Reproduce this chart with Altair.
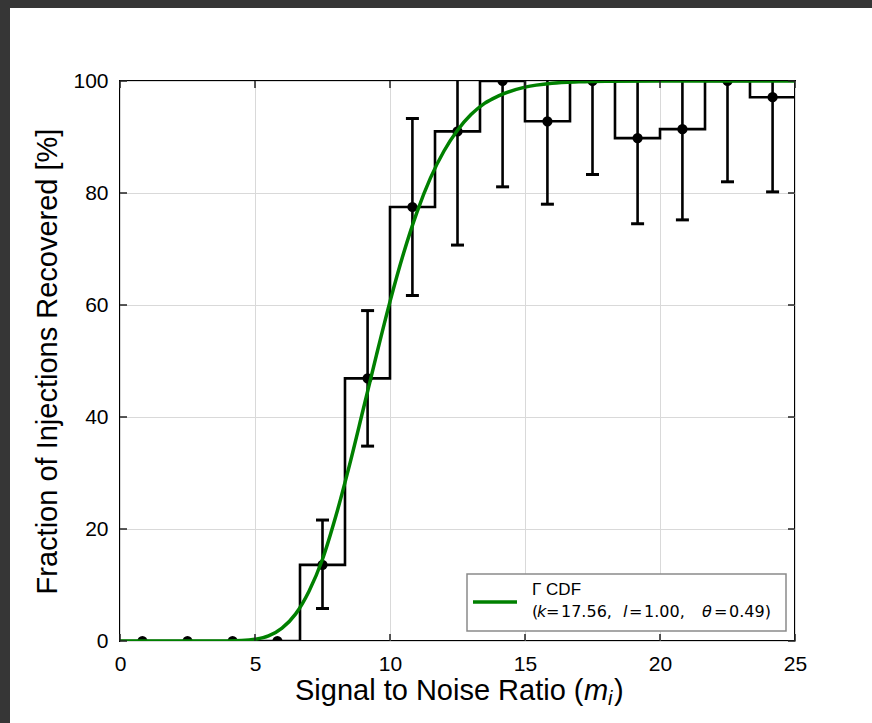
import altair as alt
import pandas as pd

# ---------------- data ----------------
bin_edges = [0.0, 1.667, 3.333, 5.0, 6.667, 8.333, 10.0, 11.667, 13.333,
             15.0, 16.667, 18.333, 20.0, 21.667, 23.333, 25.0]
bin_centers = [0.83, 2.5, 4.17, 5.83, 7.5, 9.17, 10.83, 12.5, 14.17,
               15.83, 17.5, 19.17, 20.83, 22.5, 24.17]
frac_recovered = [0, 0, 0, 0, 13.6, 46.9, 77.5, 91.0, 100, 92.8, 100,
                  89.8, 91.4, 100, 97.1]
err_low = [0, 0, 0, 0, 5.8, 34.8, 61.7, 70.7, 81.1, 78.0, 83.3, 74.5,
           75.2, 82.0, 80.2]
err_high = [0, 0, 0, 0, 21.6, 59.0, 93.3, 100, 100, 100, 100, 100,
            100, 100, 100]

cdf_x = [0, 4, 4.5, 5, 5.5, 6, 6.5, 7, 7.5, 8, 8.5, 9, 9.5, 10, 10.5, 11,
         11.5, 12, 12.5, 13, 13.5, 14, 15, 16, 17, 18, 20, 25]
cdf_y = [0, 0.01, 0.07, 0.3, 0.9, 2.3, 4.8, 8.9, 14.6, 22.4, 31.4, 41.2,
         51.1, 60.6, 69.2, 76.6, 82.7, 87.5, 91.2, 94.0, 96.0, 97.3, 98.9,
         99.6, 99.85, 99.95, 100, 100]

x_ticks = [0, 5, 10, 15, 20, 25]
y_ticks = [0, 20, 40, 60, 80, 100]

legend_title = "Γ CDF"
legend_pieces = ["(", "k", "=", "17.56,", "l", "=", "1.00,", "θ", "=", "0.49)"]
x_title_main = "Signal to Noise Ratio ("
y_title = "Fraction of Injections Recovered [%]"

# ---------------- layout ----------------
W, H = 675, 560
FONT = "Liberation Sans"
GREEN = "#008000"

xs = alt.Scale(domain=[0, 25], nice=False, zero=False)
ys = alt.Scale(domain=[0, 100], nice=False, zero=False)
x_axis = alt.Axis(values=x_ticks, title=None, format="d", labelFlush=False)
y_axis = alt.Axis(values=y_ticks, title=y_title, format="d", labelFlush=False)


def X(field):
    return alt.X(field, type="quantitative", scale=xs, axis=x_axis)


def Y(field):
    return alt.Y(field, type="quantitative", scale=ys, axis=y_axis)


step_df = pd.DataFrame({"edge": bin_edges,
                        "val": frac_recovered + [frac_recovered[-1]]})
pts_df = pd.DataFrame({"c": bin_centers, "f": frac_recovered,
                       "lo": err_low, "hi": err_high})
err_df = pts_df[pts_df["hi"] > pts_df["lo"]]
caps_df = pd.concat([
    pd.DataFrame({"c": err_df["c"], "v": err_df["lo"]}),
    pd.DataFrame({"c": err_df["c"][err_df["hi"] < 100],
                  "v": err_df["hi"][err_df["hi"] < 100]}),
])
cdf_df = pd.DataFrame({"x": cdf_x, "y": cdf_y})
xt_df = pd.DataFrame({"v": x_ticks})
yt_df = pd.DataFrame({"v": y_ticks})
one = pd.DataFrame({"k": [0]})

base = alt.Chart(one)

# dark window frame strips (top and left)
frame_top = base.mark_rect(color="#363636", clip=False).encode(
    x=alt.value(-120), x2=alt.value(W + 77), y=alt.value(-81), y2=alt.value(-73))
frame_left = base.mark_rect(color="#363636", clip=False).encode(
    x=alt.value(-120), x2=alt.value(-110), y=alt.value(-81), y2=alt.value(H + 82))

step = alt.Chart(step_df).mark_line(
    interpolate="step-after", color="black", strokeWidth=2.6, clip=True
).encode(x=X("edge"), y=Y("val"))

errs = alt.Chart(err_df).mark_rule(color="black", strokeWidth=2.6, clip=True).encode(
    x=X("c"), y=Y("lo"), y2="hi:Q")

caps = alt.Chart(caps_df).mark_tick(
    orient="horizontal", color="black", size=13, thickness=3, opacity=1, clip=True
).encode(x=X("c"), y=Y("v"))

points = alt.Chart(pts_df).mark_circle(
    color="black", size=105, opacity=1, clip=True
).encode(x=X("c"), y=Y("f"))

curve = alt.Chart(cdf_df).mark_line(
    color=GREEN, strokeWidth=3.5, interpolate="monotone", clip=True
).encode(x=X("x"), y=Y("y"))

# inward ticks on all four sides
tick_style = dict(color="#222222", thickness=1.5, size=7, opacity=1)
xt_bottom = alt.Chart(xt_df).mark_tick(orient="vertical", **tick_style).encode(
    x=X("v"), y=alt.value(H - 3.5))
xt_top = alt.Chart(xt_df).mark_tick(orient="vertical", **tick_style).encode(
    x=X("v"), y=alt.value(3.5))
yt_left = alt.Chart(yt_df).mark_tick(orient="horizontal", **tick_style).encode(
    y=Y("v"), x=alt.value(3.5))
yt_right = alt.Chart(yt_df).mark_tick(orient="horizontal", **tick_style).encode(
    y=Y("v"), x=alt.value(W - 3.5))

# legend
leg_box = base.mark_rect(fill="white", stroke="#8a8a8a", strokeWidth=1.5).encode(
    x=alt.value(347), x2=alt.value(666), y=alt.value(493), y2=alt.value(550))
leg_line = base.mark_rule(color=GREEN, strokeWidth=3.5).encode(
    x=alt.value(353), x2=alt.value(397), y=alt.value(521))
leg_t1 = base.mark_text(align="left", baseline="alphabetic", font=FONT,
                        fontSize=17, color="black").encode(
    x=alt.value(412), y=alt.value(514), text=alt.value(legend_title))

piece_x = [412, 417, 426, 441, 503, 509, 524, 582, 594, 609]
piece_italic = [False, True, False, False, True, False, False, True, False, False]
leg_line2 = []
for txt, px, it in zip(legend_pieces, piece_x, piece_italic):
    leg_line2.append(
        base.mark_text(align="left", baseline="alphabetic", font="DejaVu Sans",
                       fontSize=16, fontStyle="italic" if it else "normal",
                       color="black").encode(
            x=alt.value(px), y=alt.value(536), text=alt.value(txt)))

# x axis title with italic m and subscript i
xt_main = base.mark_text(align="left", baseline="alphabetic", font=FONT,
                         fontSize=29, color="black").encode(
    x=alt.value(175), y=alt.value(619), text=alt.value(x_title_main))
xt_m = base.mark_text(align="left", baseline="alphabetic", font=FONT,
                      fontSize=29, fontStyle="italic", color="black").encode(
    x=alt.value(464), y=alt.value(619), text=alt.value("m"))
xt_i = base.mark_text(align="left", baseline="alphabetic", font=FONT,
                      fontSize=20, fontStyle="italic", color="black").encode(
    x=alt.value(488), y=alt.value(624), text=alt.value("i"))
xt_close = base.mark_text(align="left", baseline="alphabetic", font=FONT,
                          fontSize=29, color="black").encode(
    x=alt.value(494), y=alt.value(619), text=alt.value(")"))

chart = alt.layer(
    frame_top, frame_left,
    step, errs, caps, points, curve,
    xt_bottom, xt_top, yt_left, yt_right,
    leg_box, leg_line, leg_t1, *leg_line2,
    xt_main, xt_m, xt_i, xt_close,
).properties(
    width=W, height=H,
    autosize=alt.AutoSizeParams(type="none"),
    padding={"left": 120, "top": 81, "right": 77, "bottom": 82},
    background="white",
).configure_view(
    stroke="black", strokeWidth=2, fill="white"
).configure_axis(
    grid=True, gridColor="#d9d9d9", gridWidth=1,
    domain=False, ticks=True, tickSize=0,
    labelFont=FONT, labelFontSize=21, labelColor="black", labelPadding=12,
    titleFont=FONT, titleFontSize=29, titleFontWeight="normal",
    titleColor="black", titlePadding=10,
)

chart.save("out.html", embed_options={"renderer": "svg", "actions": False})
